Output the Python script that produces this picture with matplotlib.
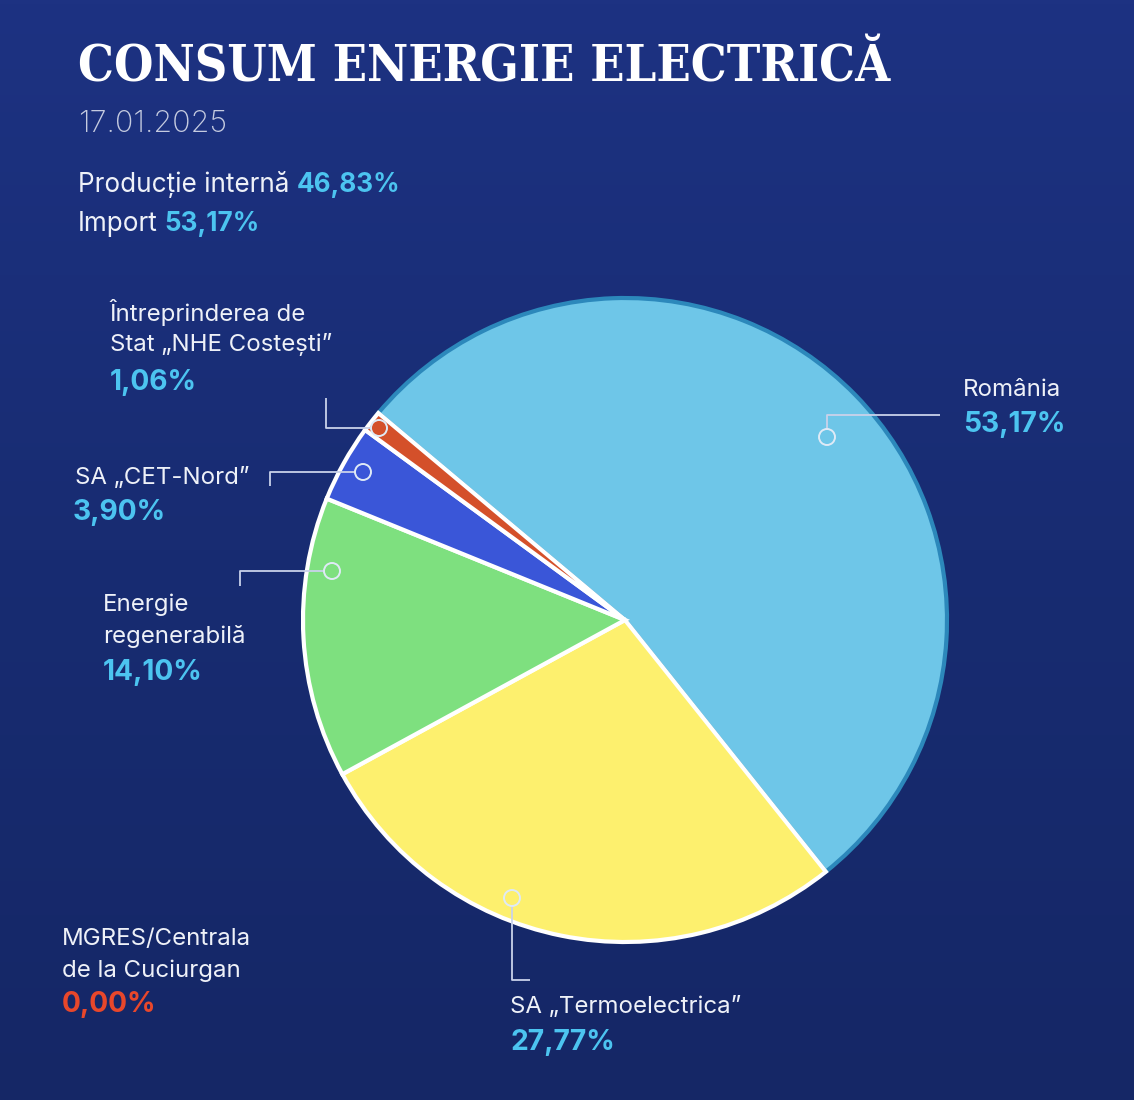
import numpy as np
import matplotlib
matplotlib.use('Agg')
import matplotlib.pyplot as plt
from matplotlib.colors import LinearSegmentedColormap
from matplotlib.patches import Circle

W, H = 1134, 1100

# --- data ---
title = 'CONSUM ENERGIE ELECTRICĂ'
date = '17.01.2025'
summary_names = ['Producție internă', 'Import']
summary_values = ['46,83%', '53,17%']

sources = ['România', 'SA „Termoelectrica”', 'Energie regenerabilă',
           'SA „CET-Nord”', 'Întreprinderea de Stat „NHE Costești”',
           'MGRES/Centrala de la Cuciurgan']
shares = [53.17, 27.77, 14.10, 3.90, 1.06, 0.00]
share_labels = ['53,17%', '27,77%', '14,10%', '3,90%', '1,06%', '0,00%']
label_lines = [['România'], ['SA „Termoelectrica”'], ['Energie', 'regenerabilă'],
               ['SA „CET-Nord”'], ['Întreprinderea de', 'Stat „NHE Costești”'],
               ['MGRES/Centrala', 'de la Cuciurgan']]
slice_colors = ['#6ec6e8', '#fdf06e', '#7ee07f', '#3a56d8', '#d4502a', '#d4502a']

# --- layout (pixels, y down) ---
CX, CY, R = 625, 620, 322
START = 140  # degrees, first slice boundary, going clockwise
label_pos = [(963, 390), (510, 1007), (103, 605), (75, 478), (110, 312), (62, 939)]
pct_pos = [(963, 425), (510, 1043), (103, 672), (73, 513), (110, 382), (62, 1004)]
leaders = [
    [(827, 437), (827, 415), (940, 415)],
    [(512, 898), (512, 980), (530, 980)],
    [(332, 571), (240, 571), (240, 586)],
    [(363, 472), (270, 472), (270, 486)],
    [(379, 428), (326, 428), (326, 398)],
    None,
]
LINE_GAP = 32

BODY = 'Inter'
WHITE = '#eef1f8'
CYAN = '#4cc4f0'
RED = '#e8472b'

fig = plt.figure(figsize=(W / 100, H / 100), dpi=100)
ax = fig.add_axes([0, 0, 1, 1])

# background gradient
bg = LinearSegmentedColormap.from_list('bg', ['#1d3282', '#182c72', '#152766'])
grad = np.linspace(0, 1, 256).reshape(-1, 1)
ax.imshow(grad, extent=(0, W, H, 0), cmap=bg, aspect='auto', zorder=0)

# pie (y axis inverted -> counterclock in data is clockwise on screen)
wedges, _ = ax.pie(shares, colors=slice_colors, center=(CX, CY), radius=R,
                   startangle=-START, counterclock=True, frame=True,
                   wedgeprops=dict(edgecolor='white', linewidth=3))
wedges[0].set_edgecolor('#2c88bb')
wedges[0].set_zorder(1)
for w in wedges[1:]:
    w.set_zorder(2)
wedges[-1].set_visible(False)

ax.set_xlim(0, W)
ax.set_ylim(H, 0)
ax.set_aspect('equal')
ax.axis('off')

# leader lines and markers
for i, pts in enumerate(leaders):
    if pts is None:
        continue
    xs, ys = zip(*pts)
    ax.plot(xs, ys, color='#c9d2ea', lw=1.3, zorder=3, solid_capstyle='butt')
    ax.add_patch(Circle(pts[0], 8, facecolor=slice_colors[i], edgecolor='#dfeaf6',
                        lw=1.4, zorder=4))

# labels
for i in range(len(sources)):
    x, y = label_pos[i]
    for k, line in enumerate(label_lines[i]):
        ax.text(x, y + k * LINE_GAP, line, color=WHITE, fontsize=17.3, family=BODY,
                ha='left', va='center', zorder=5)
    px, py = pct_pos[i]
    ax.text(px, py, share_labels[i], color=RED if shares[i] == 0 else CYAN,
            fontsize=20.3, family=BODY, weight='bold', ha='left', va='center', zorder=5)

# header
t = ax.text(78, 68, title, color='white', fontsize=40, family='DejaVu Serif',
            fontstretch='condensed', weight='bold', ha='left', va='center')
fig.canvas.draw()
bb = t.get_window_extent()
t.set_fontsize(40 * 812 / bb.width)

ax.text(78, 124, date, color='#c5cbe0', fontsize=22, family=BODY, weight='light',
        ha='left', va='center')
for k, (name, val) in enumerate(zip(summary_names, summary_values)):
    t1 = ax.text(78, 185 + k * 39, name, color=WHITE, fontsize=18.8, family=BODY,
                 ha='left', va='center')
    ax.annotate(val, xy=(1, 0), xycoords=t1, xytext=(5, 0), textcoords='offset points',
                color=CYAN, fontsize=18.8, family=BODY, weight='bold', ha='left', va='bottom')

fig.savefig('out.png', dpi=100)
